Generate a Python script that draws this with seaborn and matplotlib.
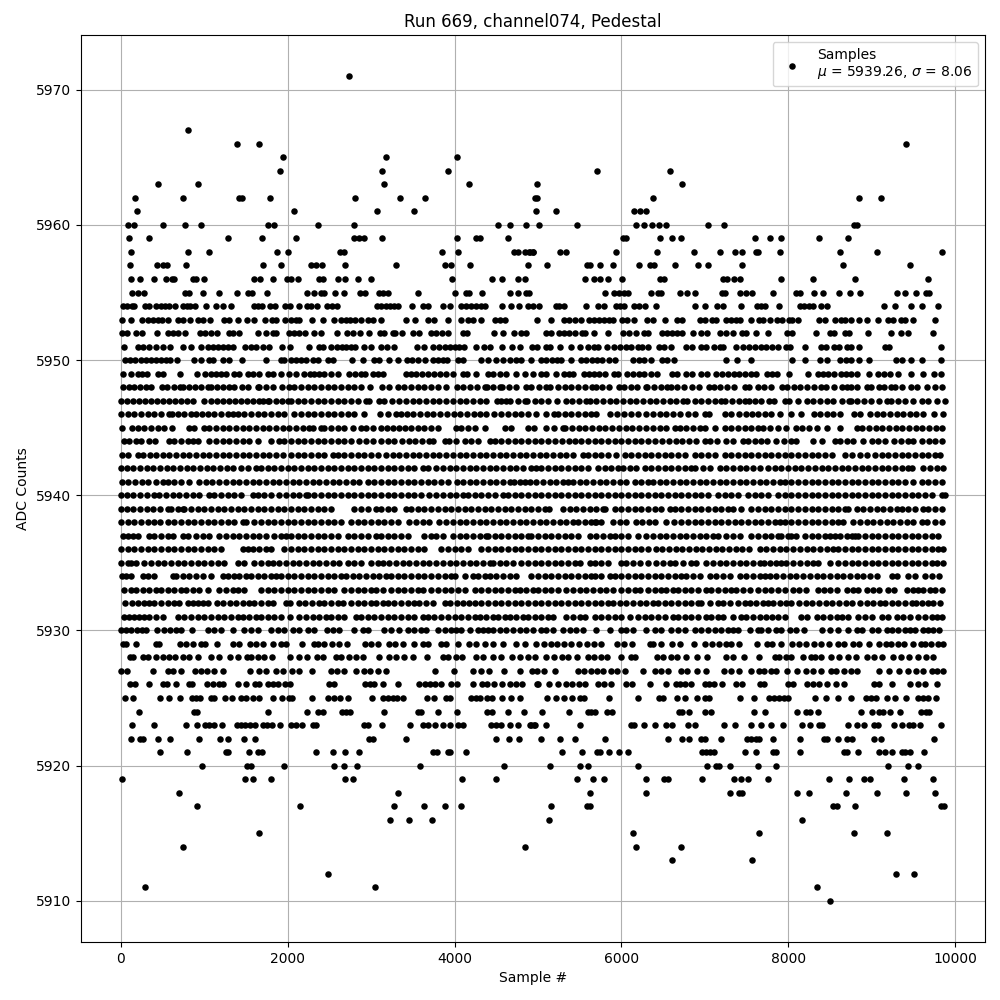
import matplotlib
matplotlib.use("Agg")
import matplotlib.pyplot as plt
import pandas as pd
import seaborn as sns

# sample numbers, one list per ADC level
s5971 = [2732]
s5967 = [800]
s5966 = [1388, 1652, 9408]
s5965 = [1940, 3176, 4028]
s5964 = [1904, 3128, 3920, 5712, 6588]
s5963 = [440, 920, 3152, 4172, 4984, 6732]
s5962 = [164, 740, 1412, 1448, 1784, 2804, 3344, 3644, 4968, 4988, 6384, 8844, 9108]
s5961 = [188, 2072, 3068, 3512, 4980, 5220, 6156, 6228, 6300]
s5960 = [80, 152, 500, 764, 956, 1760, 1832, 2360, 2792, 4520, 4664, 4856, 5012, 5472, 6180, 6268, 6372, 6456, 6540, 7044, 7236, 8792, 8820]
s5959 = [92, 332, 1280, 1688, 2096, 2792, 2852, 2912, 3128, 4028, 4256, 4304, 4640, 6024, 6060, 6468, 6612, 6720, 7608, 7788, 7920, 8364, 8712]
s5958 = [116, 800, 1052, 1868, 2000, 2624, 2672, 3848, 4040, 4712, 4760, 4844, 4892, 4940, 4908, 4944, 5268, 5340, 5940, 6432, 6876, 7188, 7368, 7452, 7620, 7644, 7908, 8616, 9060, 9840]
s5957 = [104, 428, 500, 548, 776, 1700, 1916, 2276, 2336, 2408, 2684, 3296, 3884, 3956, 4184, 4880, 5112, 5592, 5628, 5748, 5904, 6216, 6348, 6396, 6648, 6924, 7044, 7452, 8652, 9456]
s5956 = [116, 224, 392, 536, 608, 632, 860, 896, 992, 1592, 1664, 1820, 1988, 2036, 2128, 2372, 2420, 2600, 2684, 2840, 2996, 3968, 4448, 4568, 4760, 4844, 5568, 5676, 5748, 5844, 6012, 6468, 6516, 7224, 7272, 7356, 7428, 7920, 8292, 8796, 9672]
s5955 = [128, 200, 272, 764, 812, 980, 1172, 1388, 1520, 1568, 1748, 2228, 2312, 2396, 2432, 2564, 2672, 2864, 2924, 3092, 3140, 3200, 3560, 4004, 4136, 4172, 4328, 4664, 4760, 4856, 4892, 5808, 5916, 5976, 6036, 6084, 6360, 6444, 6480, 6708, 6792, 6888, 7212, 7248, 7428, 7500, 7572, 7824, 8100, 8148, 8304, 8412, 8604, 8736, 8856, 9300, 9396, 9528, 9648, 9684]
s5954 = [28, 68, 128, 160, 292, 340, 416, 484, 532, 580, 644, 740, 788, 828, 888, 1020, 1136, 1220, 1316, 1592, 1640, 1688, 1784, 1844, 1964, 2024, 2132, 2228, 2276, 2348, 2468, 2528, 2588, 3068, 3120, 3180, 3228, 3280, 3320, 3488, 3620, 3680, 3860, 3948, 4080, 4140, 4200, 4260, 4320, 4368, 4568, 4676, 4772, 4880, 4940, 5012, 5212, 5252, 5312, 5580, 5724, 5792, 5940, 5980, 6032, 6152, 6212, 6280, 6420, 6888, 7008, 7152, 7224, 7440, 7632, 7672, 7724, 7896, 8140, 8192, 8252, 8292, 8388, 8460, 9144, 9276, 9468, 9600, 9792]
s5953 = [8, 116, 252, 320, 380, 440, 488, 560, 680, 740, 824, 920, 980, 1064, 1240, 1292, 1400, 1508, 1592, 1724, 1808, 1860, 1964, 2040, 2100, 2140, 2288, 2420, 2552, 2640, 2700, 2748, 2812, 2880, 2960, 3028, 3116, 3416, 3524, 3680, 3760, 3920, 4076, 4160, 4220, 4316, 4480, 4540, 4600, 4992, 5160, 5312, 5372, 5444, 5512, 5612, 5672, 5732, 5792, 5852, 5900, 6012, 6072, 6152, 6312, 6380, 6528, 6672, 6732, 6948, 7004, 7084, 7132, 7252, 7312, 7372, 7420, 7560, 7652, 7704, 7784, 7864, 7932, 8012, 8052, 8124, 8372, 8444, 8564, 8632, 8684, 8752, 8844, 8940, 9072, 9192, 9260, 9352, 9400, 9500, 9756]
s5952 = [12, 68, 180, 248, 428, 560, 620, 680, 764, 948, 1012, 1080, 1148, 1292, 1348, 1412, 1640, 1736, 1820, 1860, 2020, 2080, 2140, 2212, 2312, 2396, 2588, 2708, 2780, 2868, 2972, 3108, 3160, 3260, 3292, 3368, 3500, 3572, 3716, 3780, 3852, 3916, 4100, 4152, 4472, 4580, 4712, 4796, 4852, 5092, 5152, 5252, 5312, 5372, 5444, 5532, 5564, 5676, 5844, 6024, 6092, 6172, 6272, 6324, 6492, 6552, 6612, 6672, 6732, 6864, 6952, 7032, 7180, 7252, 7340, 7452, 7500, 7620, 7764, 7992, 8052, 8328, 8504, 8552, 8684, 8724, 8952, 9228, 9352, 9436, 9732]
s5951 = [32, 200, 260, 332, 420, 508, 588, 740, 840, 960, 1040, 1100, 1160, 1220, 1280, 1340, 1492, 1560, 1620, 1700, 1772, 1928, 2024, 2252, 2372, 2428, 2520, 2588, 2652, 2700, 2760, 2812, 2920, 3000, 3120, 3188, 3272, 3548, 3632, 3740, 3820, 3880, 3940, 4000, 4052, 4112, 4252, 4352, 4428, 4568, 4692, 4788, 4924, 4992, 5092, 5140, 5268, 5392, 5508, 5604, 5672, 5724, 5832, 5916, 5980, 6052, 6112, 6204, 6244, 6324, 6452, 6512, 6592, 6780, 6852, 6952, 7012, 7112, 7180, 7220, 7380, 7464, 7532, 7604, 7672, 7740, 7812, 7884, 7972, 8020, 8196, 8392, 8452, 8552, 8612, 8700, 8752, 8844, 9164, 9204, 9828]
s5950 = [52, 108, 172, 240, 300, 360, 420, 480, 540, 588, 668, 872, 960, 1060, 1108, 1228, 1292, 1448, 1736, 1920, 1960, 2040, 2100, 2160, 2220, 2300, 2360, 2480, 2540, 2768, 2908, 3032, 3100, 3220, 3320, 3428, 3492, 3560, 3644, 3740, 3800, 3860, 3908, 4040, 4100, 4320, 4400, 4500, 4580, 4660, 4740, 4800, 4912, 5032, 5092, 5164, 5232, 5272, 5392, 5512, 5580, 5652, 5712, 5764, 5852, 5924, 6140, 6212, 6272, 6360, 6484, 6552, 6632, 7252, 7392, 7552, 8052, 8196, 8380, 8464, 8624, 8692, 8752, 8852, 8964, 9292, 9360, 9476, 9600, 9832]
s5949 = [20, 120, 200, 252, 308, 440, 500, 712, 908, 1012, 1080, 1140, 1200, 1260, 1352, 1412, 1520, 1580, 1660, 1768, 1828, 1920, 2020, 2100, 2200, 2268, 2320, 2380, 2440, 2520, 2600, 2740, 2812, 2880, 2932, 3020, 3080, 3140, 3420, 3480, 3540, 3612, 3680, 3760, 3828, 3900, 3980, 4100, 4148, 4260, 4400, 4460, 4540, 4620, 4740, 4840, 4940, 5032, 5092, 5220, 5312, 5372, 5424, 5552, 5612, 5672, 5732, 5804, 5912, 5964, 6072, 6140, 6212, 6272, 6352, 6432, 6612, 6672, 6772, 6852, 6952, 7032, 7132, 7212, 7284, 7352, 7412, 7484, 7552, 7612, 7752, 7812, 7872, 8012, 8232, 8352, 8412, 8472, 8552, 8632, 8692, 8752, 8824, 8972, 9080, 9152, 9220, 9312, 9472, 9612, 9752, 9832]
s5948 = [28, 92, 160, 232, 300, 360, 488, 552, 640, 712, 740, 812, 884, 960, 1040, 1080, 1148, 1228, 1300, 1360, 1448, 1520, 1640, 1660, 1740, 1820, 1932, 2012, 2080, 2160, 2240, 2320, 2400, 2480, 2560, 2640, 2720, 2800, 2880, 2988, 3128, 3212, 3320, 3400, 3480, 3560, 3640, 3720, 3800, 3892, 4024, 4104, 4184, 4264, 4360, 4392, 4460, 4540, 4572, 4652, 4732, 4852, 4912, 5012, 5100, 5140, 5244, 5320, 5400, 5480, 5560, 5652, 5692, 5772, 5852, 5972, 6032, 6112, 6192, 6292, 6312, 6392, 6472, 6552, 6592, 6672, 6752, 6848, 6928, 7048, 7108, 7188, 7268, 7348, 7488, 7528, 7640, 7716, 7796, 7928, 7988, 8068, 8148, 8228, 8308, 8388, 8448, 8548, 8648, 8708, 8748, 8828, 8948, 8988, 9088, 9148, 9228, 9280, 9360, 9468, 9548, 9668, 9760, 9848]
s5947 = [4, 76, 148, 220, 292, 364, 436, 508, 580, 652, 724, 796, 860, 1000, 1076, 1148, 1220, 1292, 1364, 1436, 1508, 1580, 1660, 1700, 1760, 1780, 1860, 1930, 2000, 2040, 2120, 2200, 2280, 2360, 2440, 2520, 2600, 2680, 2760, 2840, 2940, 2980, 3100, 3160, 3250, 3340, 3420, 3500, 3580, 3660, 3740, 3820, 3900, 3980, 4060, 4140, 4220, 4300, 4380, 4512, 4552, 4620, 4660, 4760, 4844, 4872, 4960, 5040, 5120, 5232, 5332, 5410, 5490, 5572, 5620, 5700, 5780, 5860, 5940, 6020, 6100, 6180, 6260, 6340, 6420, 6500, 6580, 6660, 6740, 6792, 6880, 6960, 7040, 7120, 7200, 7240, 7330, 7410, 7488, 7528, 7600, 7680, 7776, 7828, 7960, 8016, 8120, 8228, 8296, 8380, 8460, 8540, 8640, 8728, 8748, 8830, 8910, 8990, 9090, 9188, 9236, 9320, 9400, 9500, 9608, 9680, 9780, 9880]
s5946 = [4, 80, 160, 240, 320, 400, 480, 580, 608, 688, 760, 840, 900, 968, 1040, 1120, 1200, 1280, 1340, 1400, 1480, 1560, 1640, 1720, 1800, 1880, 1960, 2080, 2160, 2240, 2320, 2400, 2480, 2560, 2640, 2720, 2800, 2920, 3112, 3200, 3300, 3360, 3432, 3500, 3590, 3670, 3740, 3830, 3910, 3990, 4070, 4150, 4232, 4300, 4380, 4470, 4560, 4640, 4720, 4800, 4880, 4980, 5100, 5192, 5240, 5320, 5400, 5480, 5560, 5640, 5700, 5860, 5950, 6032, 6120, 6200, 6300, 6380, 6460, 6540, 6620, 6700, 6800, 6880, 7000, 7050, 7240, 7320, 7410, 7490, 7570, 7640, 7720, 7790, 7900, 8040, 8150, 8310, 8380, 8470, 8540, 8620, 8790, 8860, 8980, 9060, 9140, 9220, 9300, 9380, 9460, 9530, 9620, 9750, 9860]
s5945 = [12, 128, 200, 280, 360, 440, 520, 612, 812, 880, 1000, 1060, 1140, 1220, 1300, 1380, 1460, 1540, 1620, 1700, 1780, 1860, 1940, 2020, 2100, 2180, 2260, 2300, 2400, 2440, 2520, 2600, 2680, 2780, 2880, 2940, 3020, 3120, 3190, 3260, 3340, 3410, 3480, 3560, 3640, 3720, 3800, 4020, 4080, 4160, 4240, 4360, 4600, 4680, 4880, 4950, 5100, 5192, 5300, 5330, 5410, 5490, 5570, 5650, 5730, 5810, 5890, 5970, 6050, 6130, 6210, 6300, 6380, 6460, 6540, 6640, 6700, 6780, 6860, 6940, 7000, 7120, 7240, 7320, 7400, 7480, 7560, 7640, 7700, 7780, 7880, 7970, 8090, 8170, 8250, 8340, 8460, 8620, 8820, 8890, 8970, 9050, 9130, 9210, 9290, 9370, 9450, 9530, 9610, 9690, 9770, 9840]
s5944 = [36, 100, 180, 240, 340, 410, 580, 640, 720, 800, 860, 920, 1060, 1140, 1220, 1300, 1380, 1460, 1540, 1640, 1800, 1900, 1960, 2040, 2120, 2200, 2280, 2360, 2440, 2520, 2600, 2680, 2760, 2860, 2940, 3020, 3120, 3200, 3280, 3370, 3450, 3530, 3610, 3690, 3740, 3880, 3930, 4020, 4120, 4200, 4280, 4420, 4480, 4560, 4640, 4720, 4800, 4880, 4960, 5040, 5120, 5200, 5290, 5370, 5440, 5520, 5600, 5680, 5760, 5840, 5920, 6000, 6080, 6160, 6240, 6320, 6400, 6490, 6570, 6650, 6730, 6810, 6900, 7000, 7060, 7150, 7260, 7340, 7460, 7520, 7600, 7680, 7750, 7860, 7950, 8040, 8100, 8300, 8400, 8560, 8620, 8700, 8780, 8900, 9000, 9080, 9160, 9270, 9350, 9440, 9500, 9600, 9690, 9760, 9850]
s5943 = [8, 80, 200, 260, 350, 420, 500, 580, 660, 740, 820, 900, 980, 1060, 1140, 1220, 1300, 1380, 1460, 1540, 1620, 1700, 1780, 1860, 1940, 2040, 2120, 2200, 2280, 2360, 2440, 2540, 2600, 2680, 2760, 2840, 2920, 3000, 3080, 3180, 3260, 3340, 3420, 3500, 3580, 3660, 3740, 3820, 3900, 3980, 4060, 4140, 4220, 4300, 4380, 4460, 4540, 4620, 4700, 4780, 4860, 4940, 5020, 5100, 5180, 5260, 5340, 5420, 5540, 5600, 5680, 5760, 5840, 5940, 6040, 6120, 6200, 6280, 6360, 6440, 6520, 6600, 6680, 6760, 6880, 6960, 7040, 7120, 7240, 7320, 7400, 7480, 7560, 7640, 7720, 7800, 7880, 7960, 8040, 8120, 8200, 8280, 8360, 8440, 8520, 8680, 8760, 8860, 8940, 9040, 9120, 9200, 9280, 9360, 9440, 9520, 9600, 9680, 9760, 9820]
s5942 = [0, 70, 150, 230, 310, 390, 470, 550, 630, 710, 790, 870, 950, 1030, 1110, 1190, 1270, 1340, 1440, 1520, 1620, 1680, 1760, 1840, 1920, 2000, 2080, 2160, 2240, 2320, 2400, 2480, 2560, 2640, 2720, 2800, 2880, 2960, 3040, 3120, 3200, 3280, 3360, 3440, 3520, 3620, 3680, 3780, 3860, 3940, 4020, 4100, 4180, 4260, 4340, 4420, 4500, 4580, 4660, 4740, 4820, 4920, 4980, 5040, 5120, 5200, 5280, 5360, 5440, 5520, 5600, 5720, 5800, 5880, 5960, 6020, 6100, 6180, 6280, 6360, 6440, 6520, 6600, 6680, 6760, 6840, 6880, 6980, 7060, 7180, 7260, 7340, 7420, 7500, 7580, 7660, 7760, 7840, 7920, 8000, 8080, 8160, 8240, 8320, 8400, 8480, 8560, 8640, 8720, 8800, 8880, 8960, 9040, 9120, 9200, 9280, 9360, 9440, 9480, 9620, 9700, 9780, 9860]
s5941 = [12, 90, 170, 250, 330, 420, 500, 560, 640, 720, 812, 940, 1020, 1090, 1180, 1260, 1340, 1420, 1500, 1580, 1660, 1740, 1820, 1900, 1980, 2060, 2140, 2220, 2300, 2380, 2460, 2540, 2620, 2700, 2780, 2860, 2960, 3040, 3120, 3200, 3280, 3360, 3440, 3520, 3600, 3680, 3760, 3840, 3924, 4030, 4100, 4180, 4260, 4340, 4420, 4500, 4580, 4660, 4710, 4780, 4840, 4900, 4980, 5060, 5140, 5220, 5300, 5360, 5420, 5500, 5580, 5660, 5740, 5820, 5900, 5980, 6060, 6160, 6240, 6320, 6380, 6460, 6540, 6620, 6700, 6780, 6860, 6940, 7020, 7100, 7180, 7260, 7340, 7420, 7500, 7580, 7660, 7740, 7820, 7900, 7960, 8040, 8120, 8200, 8280, 8360, 8440, 8520, 8600, 8680, 8760, 8840, 8920, 9000, 9080, 9160, 9240, 9320, 9400, 9500, 9600, 9680, 9760, 9840]
s5940 = [0, 70, 150, 230, 310, 400, 460, 540, 620, 700, 780, 860, 940, 1060, 1120, 1200, 1280, 1360, 1440, 1580, 1640, 1720, 1800, 1900, 1980, 2060, 2140, 2220, 2240, 2320, 2400, 2480, 2560, 2640, 2720, 2800, 2880, 2960, 3040, 3120, 3200, 3280, 3360, 3440, 3520, 3600, 3700, 3780, 3860, 3940, 4020, 4100, 4160, 4240, 4320, 4400, 4480, 4580, 4640, 4720, 4800, 4880, 4960, 5040, 5120, 5200, 5280, 5360, 5440, 5520, 5600, 5680, 5760, 5840, 5920, 6000, 6080, 6160, 6240, 6320, 6400, 6480, 6560, 6640, 6720, 6800, 6880, 6960, 7040, 7160, 7240, 7320, 7400, 7520, 7600, 7680, 7760, 7880, 7960, 8040, 8120, 8200, 8280, 8360, 8440, 8520, 8600, 8680, 8760, 8840, 8920, 9000, 9080, 9160, 9240, 9320, 9400, 9480, 9560, 9640, 9720, 9840, 9880]
s5939 = [0, 70, 150, 230, 310, 390, 470, 560, 600, 680, 740, 760, 840, 920, 1000, 1080, 1160, 1240, 1320, 1400, 1480, 1560, 1640, 1720, 1800, 1880, 1960, 2040, 2120, 2200, 2280, 2360, 2440, 2520, 2800, 2880, 2960, 3060, 3120, 3200, 3280, 3420, 3480, 3560, 3640, 3720, 3800, 3880, 3960, 4040, 4120, 4200, 4280, 4360, 4440, 4520, 4600, 4680, 4760, 4840, 4920, 5000, 5080, 5130, 5300, 5380, 5460, 5540, 5620, 5700, 5780, 5810, 5920, 6000, 6080, 6160, 6240, 6320, 6400, 6480, 6580, 6640, 6720, 6800, 6880, 6960, 7040, 7120, 7200, 7280, 7340, 7440, 7560, 7640, 7720, 7800, 7880, 7960, 8040, 8120, 8200, 8280, 8360, 8440, 8520, 8600, 8680, 8720, 8820, 8900, 8980, 9060, 9140, 9220, 9300, 9360, 9440, 9520, 9620, 9680, 9760, 9850]
s5938 = [4, 80, 160, 240, 320, 400, 470, 560, 640, 720, 800, 880, 960, 1040, 1120, 1200, 1280, 1360, 1460, 1500, 1600, 1680, 1760, 1840, 1920, 2000, 2080, 2160, 2240, 2320, 2400, 2480, 2560, 2640, 2760, 2840, 2920, 3000, 3080, 3160, 3240, 3320, 3460, 3540, 3620, 3700, 3820, 3900, 3980, 4060, 4140, 4220, 4300, 4380, 4460, 4540, 4620, 4700, 4780, 4860, 4940, 5020, 5100, 5180, 5260, 5340, 5420, 5480, 5560, 5640, 5680, 5700, 5760, 5900, 5980, 6050, 6170, 6250, 6330, 6400, 6540, 6630, 6720, 6800, 6880, 6960, 7040, 7120, 7200, 7280, 7360, 7440, 7520, 7600, 7680, 7760, 7840, 7900, 7960, 8040, 8120, 8200, 8280, 8360, 8440, 8520, 8600, 8660, 8780, 8860, 8940, 9020, 9100, 9180, 9260, 9340, 9420, 9500, 9600, 9660, 9760, 9840]
s5937 = [20, 80, 140, 200, 340, 400, 480, 560, 620, 740, 800, 900, 990, 1060, 1180, 1260, 1340, 1420, 1500, 1580, 1660, 1740, 1830, 1920, 1980, 2040, 2120, 2200, 2280, 2360, 2440, 2520, 2600, 2720, 2800, 2880, 2960, 3060, 3120, 3200, 3280, 3360, 3440, 3640, 3720, 3780, 3860, 3980, 4060, 4140, 4220, 4300, 4380, 4400, 4480, 4560, 4640, 4720, 4800, 4880, 4920, 5000, 5080, 5160, 5240, 5320, 5400, 5480, 5620, 5700, 5780, 5860, 5920, 6000, 6080, 6200, 6300, 6380, 6460, 6540, 6620, 6700, 6780, 6860, 6940, 7020, 7100, 7160, 7260, 7340, 7420, 7560, 7640, 7720, 7800, 7880, 7920, 8000, 8040, 8100, 8200, 8280, 8360, 8440, 8500, 8560, 8620, 8700, 8760, 8800, 8840, 8920, 9000, 9080, 9160, 9240, 9320, 9400, 9480, 9560, 9640, 9720, 9800]
s5936 = [4, 80, 160, 240, 320, 400, 480, 560, 640, 720, 800, 880, 960, 1040, 1120, 1200, 1460, 1520, 1580, 1660, 1740, 1800, 1960, 2040, 2120, 2200, 2280, 2360, 2440, 2520, 2600, 2680, 2760, 2840, 2920, 3000, 3080, 3160, 3240, 3320, 3400, 3480, 3560, 3640, 3840, 3920, 4000, 4080, 4160, 4320, 4400, 4480, 4560, 4640, 4720, 4800, 4880, 4960, 5040, 5120, 5200, 5280, 5360, 5440, 5520, 5600, 5680, 5760, 5840, 5920, 6000, 6080, 6160, 6240, 6320, 6420, 6490, 6570, 6650, 6730, 6810, 6890, 6970, 7050, 7130, 7210, 7290, 7370, 7450, 7530, 7660, 7740, 7820, 7900, 7980, 8060, 8140, 8220, 8300, 8380, 8460, 8540, 8600, 8680, 8760, 8840, 8920, 9000, 9080, 9160, 9240, 9320, 9400, 9480, 9560, 9640, 9720, 9800, 9860]
s5935 = [0, 80, 120, 180, 280, 360, 440, 520, 600, 680, 760, 840, 920, 1000, 1080, 1160, 1240, 1400, 1480, 1600, 1680, 1760, 1820, 1900, 1980, 2060, 2140, 2220, 2300, 2380, 2460, 2540, 2620, 2720, 2800, 2880, 3000, 3080, 3140, 3220, 3300, 3380, 3460, 3540, 3620, 3700, 3780, 3860, 3940, 4020, 4100, 4180, 4260, 4340, 4420, 4460, 4540, 4620, 4700, 4800, 4880, 4960, 5040, 5120, 5200, 5280, 5360, 5440, 5500, 5620, 5680, 5760, 5840, 6000, 6060, 6140, 6220, 6320, 6420, 6500, 6580, 6640, 6740, 6840, 6900, 7020, 7100, 7180, 7260, 7340, 7420, 7500, 7580, 7660, 7710, 7780, 7860, 7920, 7970, 8060, 8140, 8220, 8300, 8360, 8500, 8600, 8680, 8760, 8840, 8920, 9000, 9080, 9160, 9240, 9320, 9400, 9480, 9560, 9640, 9720, 9780, 9860]
s5934 = [16, 60, 120, 260, 320, 400, 620, 660, 740, 820, 900, 980, 1080, 1220, 1280, 1360, 1420, 1500, 1560, 1640, 1720, 1800, 1860, 1920, 2000, 2080, 2160, 2240, 2320, 2400, 2480, 2560, 2640, 2700, 2780, 2860, 2940, 3020, 3100, 3180, 3240, 3320, 3400, 3480, 3560, 3640, 3720, 3800, 3880, 3960, 4000, 4120, 4220, 4280, 4360, 4420, 4500, 4580, 4660, 4740, 4920, 5000, 5080, 5160, 5240, 5320, 5400, 5480, 5560, 5640, 5680, 5760, 5860, 5920, 6000, 6080, 6160, 6240, 6320, 6400, 6480, 6560, 6640, 6720, 6780, 6860, 6940, 7060, 7140, 7220, 7300, 7420, 7500, 7580, 7660, 7720, 7780, 7860, 7940, 8020, 8100, 8180, 8260, 8340, 8420, 8500, 8580, 8660, 8740, 8820, 8900, 8980, 9060, 9240, 9300, 9440, 9520, 9640, 9720, 9810]
s5933 = [40, 120, 180, 260, 340, 420, 480, 560, 640, 720, 780, 860, 940, 1040, 1180, 1260, 1340, 1400, 1480, 1680, 1760, 1840, 1920, 2000, 2080, 2160, 2240, 2320, 2400, 2480, 2560, 2680, 2760, 2840, 2920, 3000, 3060, 3140, 3240, 3320, 3400, 3480, 3560, 3620, 3720, 3800, 3880, 3960, 4040, 4120, 4240, 4320, 4400, 4480, 4560, 4640, 4720, 4780, 4860, 4940, 5000, 5080, 5160, 5240, 5340, 5420, 5500, 5580, 5660, 5740, 5820, 5900, 6000, 6080, 6160, 6220, 6320, 6400, 6480, 6540, 6620, 6680, 6760, 6840, 6920, 7020, 7080, 7160, 7240, 7320, 7380, 7460, 7540, 7640, 7720, 7800, 7880, 7960, 8060, 8130, 8210, 8360, 8430, 8500, 8580, 8700, 8780, 8840, 8940, 9020, 9090, 9200, 9270, 9420, 9500, 9560, 9620, 9700, 9760, 9840]
s5932 = [52, 130, 210, 280, 340, 400, 480, 560, 640, 700, 800, 860, 920, 980, 1040, 1150, 1230, 1310, 1380, 1460, 1540, 1600, 1680, 1760, 1820, 1980, 2030, 2140, 2210, 2290, 2370, 2440, 2520, 2600, 2660, 2760, 2840, 2920, 3000, 3060, 3140, 3200, 3280, 3360, 3440, 3520, 3580, 3660, 3740, 3880, 3950, 4030, 4100, 4170, 4250, 4320, 4400, 4480, 4560, 4640, 4720, 4800, 4880, 4960, 5040, 5120, 5200, 5280, 5360, 5440, 5520, 5600, 5680, 5760, 5840, 5900, 5980, 6060, 6140, 6220, 6300, 6380, 6440, 6520, 6600, 6680, 6760, 6840, 6920, 6960, 7060, 7160, 7220, 7300, 7400, 7480, 7540, 7620, 7700, 7760, 7820, 7900, 7980, 8040, 8130, 8210, 8290, 8370, 8450, 8530, 8610, 8690, 8770, 8860, 8940, 9020, 9100, 9160, 9240, 9320, 9400, 9480, 9530, 9600, 9680, 9740, 9820]
s5931 = [40, 100, 160, 220, 280, 340, 420, 500, 680, 760, 840, 920, 1000, 1080, 1160, 1240, 1320, 1400, 1460, 1540, 1620, 1680, 1760, 1840, 1920, 2030, 2140, 2220, 2300, 2380, 2460, 2520, 2600, 2680, 2820, 2880, 2960, 3040, 3120, 3200, 3280, 3360, 3440, 3520, 3620, 3680, 3760, 3840, 3920, 4000, 4080, 4160, 4240, 4300, 4380, 4460, 4520, 4600, 4660, 4740, 4820, 4880, 4960, 5040, 5120, 5180, 5340, 5420, 5500, 5560, 5680, 5760, 5840, 5920, 6000, 6100, 6200, 6280, 6360, 6440, 6520, 6620, 6680, 6760, 6840, 6920, 7020, 7080, 7160, 7220, 7340, 7440, 7500, 7580, 7660, 7740, 7810, 7880, 7960, 8160, 8220, 8340, 8420, 8500, 8580, 8650, 8720, 8840, 8920, 9000, 9120, 9200, 9300, 9380, 9460, 9560, 9640, 9720, 9780, 9840]
s5930 = [4, 60, 120, 190, 250, 300, 430, 520, 590, 660, 720, 850, 1040, 1120, 1200, 1340, 1480, 1560, 1640, 1800, 1880, 1960, 2060, 2130, 2240, 2320, 2470, 2540, 2620, 2800, 2900, 2960, 3160, 3240, 3340, 3440, 3520, 3600, 3660, 3800, 3880, 3960, 4020, 4080, 4180, 4280, 4340, 4400, 4460, 4540, 4620, 4700, 4780, 4860, 4940, 5040, 5100, 5180, 5300, 5380, 5460, 5540, 5700, 5860, 6000, 6060, 6140, 6300, 6400, 6480, 6600, 6680, 6760, 6880, 6960, 7040, 7120, 7200, 7280, 7340, 7400, 7540, 7640, 7680, 7760, 7860, 7920, 8020, 8100, 8190, 8400, 8500, 8600, 8720, 8820, 8880, 9000, 9080, 9180, 9240, 9320, 9400, 9460, 9520, 9620, 9680, 9740, 9810]
s5929 = [20, 60, 180, 420, 452, 712, 780, 868, 960, 1012, 1148, 1340, 1412, 1544, 1620, 1700, 1820, 1920, 1980, 2168, 2312, 2360, 2432, 2532, 2612, 2708, 2932, 3000, 3080, 3212, 3292, 3380, 3512, 3620, 3680, 3840, 3900, 4040, 4172, 4260, 4368, 4460, 4580, 4740, 4840, 4972, 5072, 5152, 5232, 5312, 5392, 5492, 5592, 5672, 5752, 5952, 6032, 6132, 6340, 6380, 6476, 6612, 6700, 6872, 7000, 7084, 7172, 7252, 7312, 7412, 7632, 7752, 7812, 7912, 8052, 8132, 8212, 8312, 8392, 8492, 8592, 8672, 8772, 8852, 8964, 9092, 9172, 9232, 9312, 9392, 9492, 9592, 9640, 9712, 9792, 9852]
s5928 = [108, 148, 260, 320, 424, 508, 580, 652, 740, 820, 920, 1080, 1172, 1304, 1400, 1508, 1564, 1640, 1720, 1808, 2024, 2140, 2228, 2348, 2420, 2580, 2640, 2732, 2820, 2900, 3092, 3212, 3300, 3400, 3500, 3668, 3860, 3920, 4020, 4092, 4260, 4340, 4460, 4556, 4692, 4788, 4880, 4960, 5100, 5196, 5292, 5364, 5472, 5596, 5676, 5752, 5832, 5996, 6112, 6164, 6424, 6500, 6592, 6672, 6772, 6904, 7032, 7252, 7340, 7468, 7652, 7844, 7892, 7972, 8032, 8184, 8272, 8316, 8392, 8512, 8612, 8712, 8812, 8944, 9024, 9124, 9260, 9352, 9452, 9552, 9652, 9732]
s5927 = [4, 76, 380, 560, 620, 720, 888, 960, 1028, 1120, 1220, 1544, 1652, 1740, 1860, 1940, 2052, 2132, 2288, 2520, 2588, 2680, 2824, 2920, 2988, 3080, 3180, 3764, 3992, 4220, 4320, 4412, 4592, 4788, 4924, 4988, 5076, 5208, 5484, 5552, 5632, 5712, 5780, 5872, 5952, 6040, 6264, 6404, 6472, 6564, 6712, 6792, 6912, 7012, 7232, 7312, 7412, 7552, 7652, 7712, 7792, 7852, 7992, 8112, 8212, 8300, 8392, 8512, 8572, 8672, 8752, 8820, 9092, 9212, 9332, 9432, 9532, 9620, 9720, 9780, 9852]
s5926 = [108, 172, 340, 500, 548, 656, 812, 852, 1028, 1100, 1180, 1228, 1400, 1500, 1604, 1660, 1760, 1820, 1880, 1972, 2028, 2500, 2560, 2928, 2988, 3040, 3144, 3320, 3572, 3644, 3704, 3764, 3836, 3952, 4028, 4220, 4332, 4392, 4472, 4568, 4668, 4732, 4812, 4988, 5004, 5136, 5244, 5340, 5404, 5492, 5564, 5724, 5792, 5872, 6060, 6124, 6348, 6540, 6652, 6704, 6768, 6840, 7000, 7056, 7116, 7212, 7372, 7452, 7660, 7716, 8004, 8060, 8220, 8292, 8364, 8464, 8572, 8672, 9028, 9092, 9244, 9464, 9552, 9644, 9780]
s5925 = [48, 140, 464, 572, 704, 852, 900, 948, 1076, 1112, 1244, 1328, 1440, 1500, 1580, 1652, 1820, 1928, 2012, 2048, 2288, 2480, 2552, 2624, 2720, 3008, 3140, 3200, 3260, 3308, 3380, 3668, 3752, 3900, 3940, 4200, 4260, 4308, 4388, 4448, 4568, 4676, 4784, 5112, 5212, 5316, 5412, 5500, 5556, 5856, 6204, 6456, 6504, 6672, 6768, 6912, 7000, 7052, 7428, 7596, 7776, 7832, 7892, 7952, 8004, 8316, 8448, 8592, 8756, 8932, 8992, 9052, 9180, 9276, 9412, 9552, 9612, 9672, 9772]
s5924 = [212, 872, 908, 1760, 2228, 2360, 2420, 2648, 2700, 2748, 3152, 3560, 3596, 3800, 4028, 4388, 4448, 4640, 4832, 5052, 5376, 5604, 5640, 5680, 5832, 5884, 6696, 6732, 6812, 7008, 7072, 7596, 7728, 8112, 8208, 8264, 8352, 8868, 9000, 9084, 9132, 9216, 9336, 9592, 9652, 9692]
s5923 = [128, 392, 776, 908, 1004, 1060, 1120, 1208, 1388, 1440, 1492, 1548, 1604, 1700, 1752, 1808, 1904, 2036, 2100, 2168, 2300, 2340, 2920, 2960, 3128, 3464, 3620, 3680, 3772, 3860, 3944, 4040, 4100, 4440, 4500, 4560, 4668, 4760, 4900, 4960, 4912, 4952, 5100, 5508, 6112, 6152, 6276, 6408, 6540, 6612, 6804, 6888, 7236, 7364, 7560, 7680, 7800, 7944, 8172, 8256, 8364, 8404, 8712, 8820, 8904, 9024, 9072, 9268, 9360, 9452, 9500, 9576, 9828]
s5922 = [116, 232, 268, 440, 584, 932, 1184, 1280, 1472, 1604, 2972, 3020, 3416, 4496, 4652, 4772, 5040, 5268, 5448, 5808, 6564, 6732, 6816, 6960, 7008, 7200, 7512, 7552, 7620, 7652, 7824, 8148, 8424, 8460, 8592, 8700, 8760, 9024, 9108, 9744]
s5921 = [464, 788, 1256, 1284, 1532, 1640, 1688, 2336, 2540, 2684, 2852, 3740, 3788, 3920, 3944, 4136, 5292, 5532, 5712, 5748, 5856, 5976, 6084, 6972, 7020, 7068, 7116, 7488, 7620, 7824, 7860, 8148, 8664, 8700, 8832, 9084, 9156, 9240, 9360, 9396, 9456, 9624]
s5920 = [968, 1508, 1556, 1952, 2552, 2672, 2828, 3584, 4592, 5148, 5508, 5596, 6204, 7032, 7140, 7176, 7308, 7644, 7860, 9192, 9432, 9552]
s5919 = [8, 1484, 1580, 1796, 2684, 2780, 4088, 4496, 5472, 5664, 5796, 6300, 6516, 6564, 6972, 7356, 7440, 7524, 7764, 8484, 8724, 8904, 8976, 9384, 9732]
s5918 = [692, 3320, 5628, 6300, 7308, 7416, 7452, 8112, 8244, 8688, 9068, 9408, 9756]
s5917 = [908, 2144, 3272, 3632, 3884, 4076, 5160, 5592, 5628, 8532, 8580, 8796, 9828, 9864]
s5916 = [3224, 3452, 3728, 5136, 8172]
s5915 = [1652, 6144, 7656, 8784, 9180]
s5914 = [740, 4844, 6180, 6720]
s5913 = [6612, 7572]
s5912 = [2480, 9288, 9504]
s5911 = [284, 3044, 8340]
s5910 = [8496]

levels = {
    5971: s5971, 5967: s5967, 5966: s5966, 5965: s5965, 5964: s5964, 5963: s5963,
    5962: s5962, 5961: s5961, 5960: s5960, 5959: s5959, 5958: s5958, 5957: s5957,
    5956: s5956, 5955: s5955, 5954: s5954, 5953: s5953, 5952: s5952, 5951: s5951,
    5950: s5950, 5949: s5949, 5948: s5948, 5947: s5947, 5946: s5946, 5945: s5945,
    5944: s5944, 5943: s5943, 5942: s5942, 5941: s5941, 5940: s5940, 5939: s5939,
    5938: s5938, 5937: s5937, 5936: s5936, 5935: s5935, 5934: s5934, 5933: s5933,
    5932: s5932, 5931: s5931, 5930: s5930, 5929: s5929, 5928: s5928, 5927: s5927,
    5926: s5926, 5925: s5925, 5924: s5924, 5923: s5923, 5922: s5922, 5921: s5921,
    5920: s5920, 5919: s5919, 5918: s5918, 5917: s5917, 5916: s5916, 5915: s5915,
    5914: s5914, 5913: s5913, 5912: s5912, 5911: s5911, 5910: s5910,
}

df = pd.DataFrame(
    [(s, adc) for adc, samples in levels.items() for s in samples],
    columns=["sample", "adc"],
)

fig, ax = plt.subplots(figsize=(10, 10), dpi=100)
fig.subplots_adjust(left=0.081, right=0.985, top=0.965, bottom=0.058)
sns.scatterplot(
    data=df, x="sample", y="adc", color="black", s=22, linewidth=0, ax=ax, zorder=3,
    label="Samples\n$\\mu$ = 5939.26, $\\sigma$ = 8.06",
)
ax.set_xlim(-478, 10360)
ax.set_ylim(5906.95, 5974.05)
ax.set_xticks([0, 2000, 4000, 6000, 8000, 10000])
ax.set_yticks(range(5910, 5971, 10))
ax.grid(True)
ax.set_axisbelow(True)
ax.set_title("Run 669, channel074, Pedestal")
ax.set_xlabel("Sample #")
ax.set_ylabel("ADC Counts")
ax.legend(loc="upper right")
fig.savefig("out.png", dpi=100)
